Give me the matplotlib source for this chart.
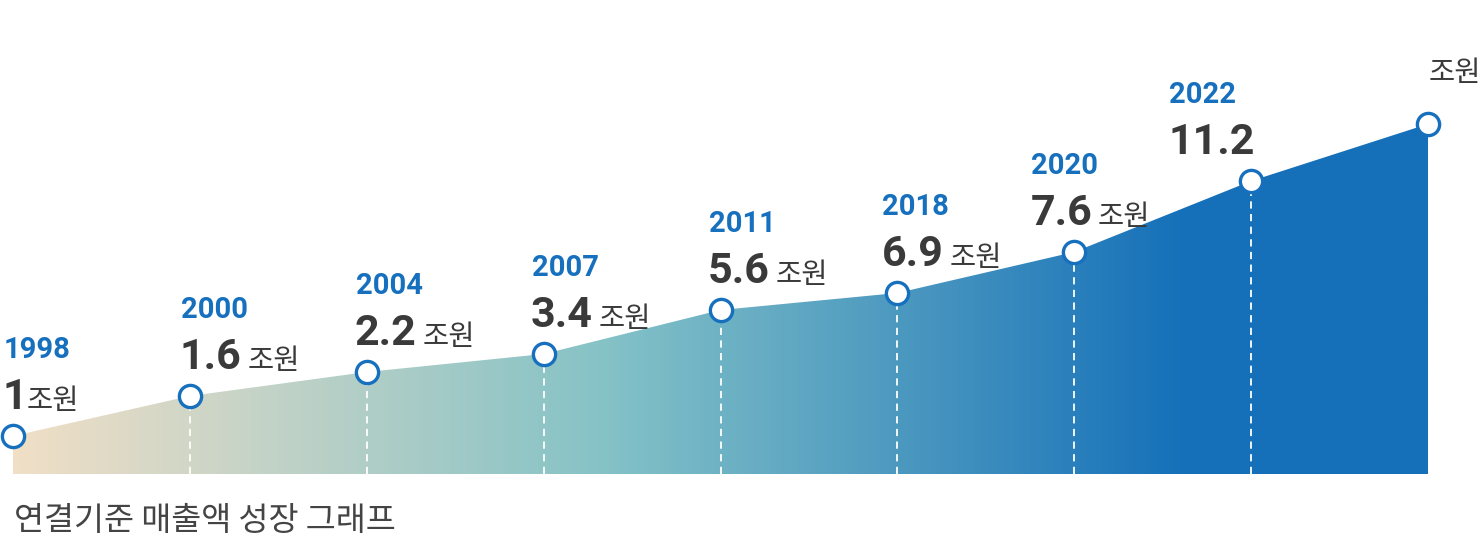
import numpy as np
import matplotlib.pyplot as plt
from matplotlib.colors import LinearSegmentedColormap

plt.rcParams['font.family'] = ['Noto Sans CJK KR', 'DejaVu Sans']

# data (schematic chart: level = drawn height of each point)
years = ["1998", "2000", "2004", "2007", "2011", "2018", "2020", "2022", ""]
values = ["1", "1.6", "2.2", "3.4", "5.6", "6.9", "7.6", "11.2", ""]
levels = [38, 78, 102, 120, 164, 181, 222, 293, 350]
unit = "조원"
title = "연결기준 매출액 성장 그래프"

blue = "#1670bd"
dark = "#3a3a3a"

x = np.arange(len(levels))
step = (1428 - 13) / 8

fig = plt.figure(figsize=(14.84, 5.38), dpi=100)
ax = fig.add_axes([0, 0, 1, 1])
ax.set_xlim(-13 / step, 8 + (1484 - 1428) / step)
ax.set_ylim(-64, 474)
ax.axis("off")

# gradient area
area = ax.fill_between(x, 0, levels, color="none", lw=0)
cmap = LinearSegmentedColormap.from_list("g", [
    (0.0, "#f1dfc6"), (0.42, "#84c2c7"), (0.83, "#1570b9"), (1.0, "#1570b9")])
grad = np.linspace(0, 1, 512).reshape(1, -1)
img = ax.imshow(grad, cmap=cmap, aspect="auto", extent=[x[0], x[-1], 0, 474],
                zorder=1)
img.set_clip_path(area.get_paths()[0], transform=ax.transData)

# dashed guides
for i in range(1, len(x) - 1):
    ax.plot([x[i], x[i]], [0, levels[i]], color="white", lw=1.3,
            ls=(0, (4, 3)), zorder=2)

ax.plot(x, levels, ls="none", marker="o", ms=16, mfc="white", mec=blue,
        mew=2.4, zorder=3, clip_on=False)

# labels
xoff = [-9, -9, -11, -12, -12, -15, -43, -82]
for i in range(len(years) - 1):
    ax.annotate(years[i], (x[i], levels[i]), xytext=(xoff[i], 78),
                textcoords="offset pixels", ha="left", va="baseline",
                fontsize=21, fontweight="bold", color=blue,
                family=["Roboto", "DejaVu Sans"])
    vt = ax.annotate(values[i], (x[i], levels[i]), xytext=(xoff[i] - 1, 27),
                     textcoords="offset pixels", ha="left", va="baseline",
                     fontsize=31, fontweight="bold", color=dark,
                     family=["Roboto", "DejaVu Sans"])
    if i < len(years) - 2:
        gap = -1 if i == 0 else 6
        ax.annotate(unit, xy=(1, levels[i]), xycoords=(vt, "data"),
                    xytext=(gap, 27), textcoords="offset pixels",
                    ha="left", va="baseline", fontsize=20.5, color=dark)

fig.text(1481 / 1484, 1 - 88 / 538, unit, ha="right", va="bottom",
         fontsize=20.5, color=dark)
fig.text(14 / 1484, 1 - 537 / 538, title, ha="left", va="bottom",
         fontsize=23.5, color="#444444")

fig.savefig("out.png", dpi=100)
